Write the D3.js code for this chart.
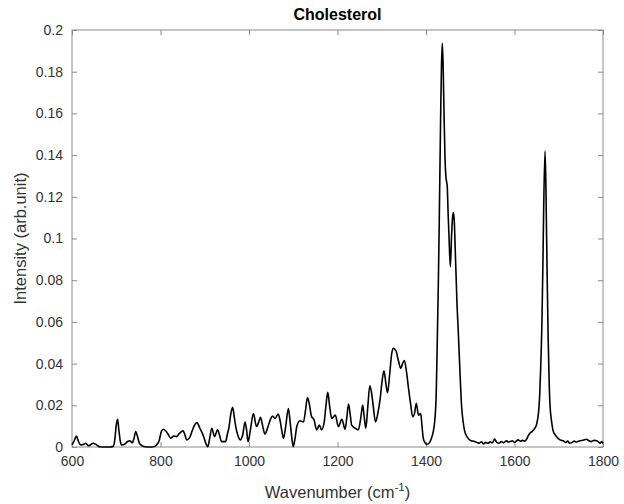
<!DOCTYPE html>
<html>
    <head>
        <meta charset="UTF-8">
        <title>Cholesterol spectrum</title>
        <style>
            body { margin: 0; background: #fff; }
            text { font-family: "Liberation Sans", Arial, Helvetica, sans-serif; }
        </style>
    </head>
    <body>
        <script src="https://d3js.org/d3.v7.min.js"></script>
        <svg></svg>
        <script>
            // spectrum (cm^-1, arb. unit)
            let wavenumber = [
                600, 605, 610, 614, 620, 626, 631, 637, 643, 648, 653, 658, 663, 675, 685, 693, 697, 700, 703, 706,
                709, 712, 718, 725, 731, 736, 740, 744, 748, 752, 756, 762, 770, 780, 787, 791, 797, 802, 806, 813,
                818, 823, 830, 836, 843, 851, 855, 859, 866, 872, 877, 882, 889, 897, 902, 907, 911, 916, 922, 929,
                933, 938, 947, 951, 955, 959, 963, 967, 970, 975, 980, 986, 991, 994, 998, 1003, 1010, 1017, 1022, 1026,
                1031, 1036, 1043, 1048, 1053, 1059, 1066, 1070, 1074, 1078, 1083, 1089, 1093, 1097, 1100, 1104, 1108, 1115, 1123, 1128,
                1132, 1136, 1141, 1147, 1153, 1159, 1164, 1170, 1174, 1178, 1182, 1187, 1195, 1202, 1210, 1217, 1221, 1225, 1229, 1232,
                1240, 1247, 1252, 1257, 1260, 1264, 1268, 1273, 1277, 1280, 1286, 1291, 1296, 1301, 1305, 1309, 1313, 1318, 1322, 1326,
                1332, 1337, 1343, 1347, 1351, 1356, 1360, 1365, 1370, 1374, 1378, 1383, 1388, 1391, 1394, 1398, 1401, 1405, 1409, 1412,
                1416, 1420, 1423, 1425, 1428, 1430, 1433, 1435, 1437, 1439, 1441, 1443, 1445, 1448, 1450, 1452, 1455, 1458, 1460, 1462,
                1464, 1466, 1468, 1470, 1473, 1475, 1478, 1480, 1484, 1487, 1491, 1496, 1502, 1508, 1515, 1520, 1525, 1530, 1535, 1540,
                1545, 1550, 1555, 1560, 1565, 1570, 1575, 1582, 1586, 1590, 1595, 1600, 1605, 1608, 1614, 1618, 1623, 1628, 1632, 1635,
                1640, 1646, 1650, 1654, 1657, 1659, 1662, 1664, 1666, 1669, 1671, 1672, 1674, 1676, 1678, 1680, 1684, 1687, 1692, 1699,
                1705, 1710, 1716, 1720, 1725, 1730, 1735, 1740, 1748, 1755, 1763, 1768, 1774, 1780, 1786, 1790, 1793, 1797, 1800
            ];
            let intensity = [
                0.001, 0.003, 0.0053, 0.003, 0.001, 0.0012, 0.0018, 0.0006, 0.0012, 0.0018, 0.0014, 0.0006, 0.0001, 0, 0, 0.0003, 0.004, 0.0105, 0.0133, 0.008,
                0.003, 0.001, 0.0012, 0.0025, 0.003, 0.002, 0.004, 0.0074, 0.005, 0.002, 0.001, 0.0002, 0, 0, 0.0003, 0.001, 0.003, 0.0075, 0.0085, 0.0074,
                0.0058, 0.0042, 0.0053, 0.005, 0.0066, 0.0078, 0.006, 0.0034, 0.0045, 0.008, 0.0105, 0.0117, 0.009, 0.0053, 0.002, 0.0002, 0.004, 0.009, 0.005, 0.0082,
                0.006, 0.0026, 0.0026, 0.006, 0.0098, 0.016, 0.019, 0.014, 0.0098, 0.0055, 0.0034, 0.006, 0.012, 0.009, 0.0026, 0.008, 0.016, 0.0098, 0.012, 0.0142,
                0.01, 0.0062, 0.0098, 0.013, 0.0149, 0.0137, 0.0158, 0.013, 0.008, 0.0042, 0.01, 0.0185, 0.012, 0.004, 0.0002, 0.004, 0.0098, 0.0126, 0.012, 0.018,
                0.0237, 0.021, 0.0149, 0.013, 0.0082, 0.0105, 0.0082, 0.012, 0.02, 0.0262, 0.02, 0.0137, 0.0153, 0.0098, 0.0133, 0.0085, 0.014, 0.0206, 0.015, 0.0105,
                0.009, 0.0082, 0.013, 0.0201, 0.015, 0.009, 0.018, 0.0294, 0.026, 0.021, 0.012, 0.016, 0.0225, 0.032, 0.0366, 0.031, 0.026, 0.035, 0.044, 0.0473,
                0.0462, 0.042, 0.0377, 0.04, 0.0415, 0.036, 0.029, 0.021, 0.0145, 0.016, 0.021, 0.0153, 0.016, 0.01, 0.004, 0.002, 0.0013, 0.0015, 0.0025, 0.004,
                0.007, 0.013, 0.025, 0.045, 0.08, 0.109, 0.157, 0.183, 0.1936, 0.18, 0.157, 0.138, 0.1297, 0.125, 0.112, 0.101, 0.0865, 0.1025, 0.11, 0.1124,
                0.108, 0.095, 0.082, 0.069, 0.055, 0.045, 0.03, 0.021, 0.012, 0.008, 0.0055, 0.004, 0.003, 0.0028, 0.0022, 0.0018, 0.0025, 0.0015, 0.0022, 0.0017,
                0.0025, 0.002, 0.0038, 0.0022, 0.0018, 0.0026, 0.002, 0.003, 0.0024, 0.0026, 0.003, 0.0022, 0.003, 0.0034, 0.0028, 0.0032, 0.0028, 0.004, 0.0058, 0.0066,
                0.0075, 0.009, 0.011, 0.016, 0.025, 0.037, 0.06, 0.085, 0.115, 0.142, 0.125, 0.109, 0.08, 0.053, 0.034, 0.021, 0.012, 0.008, 0.0058, 0.004,
                0.0032, 0.003, 0.0022, 0.0028, 0.0018, 0.0022, 0.0028, 0.0024, 0.003, 0.0032, 0.0037, 0.003, 0.0026, 0.0032, 0.003, 0.0024, 0.0018, 0.0026, 0.0017
            ];
            let xTicks = [600, 800, 1000, 1200, 1400, 1600, 1800];
            let yTicks = [0, 0.02, 0.04, 0.06, 0.08, 0.1, 0.12, 0.14, 0.16, 0.18, 0.2];

            let data = wavenumber.map((w, i) => ({x: w, y: intensity[i]}));

            let margin = {top: 30, right: 21, bottom: 57, left: 72},
                width = 624 - margin.left - margin.right,
                height = 504 - margin.top - margin.bottom;

            let svg = d3.select("svg")
                .attr("width", 624)
                .attr("height", 504);
            let chart = svg.append("g")
                .attr("transform", "translate(" + margin.left + "," + margin.top + ")");

            let xScale = d3.scaleLinear()
                .domain([600, 1800])
                .range([0, width]);
            let yScale = d3.scaleLinear()
                .domain([0, 0.2])
                .range([height, 0]);

            let axisColor = "#8a8a8a";
            let labelColor = "#333";

            function styleAxis(g) {
                g.select(".domain").remove();
                g.selectAll(".tick line").attr("stroke", axisColor);
                g.selectAll(".tick text")
                    .attr("fill", labelColor)
                    .style("font-size", "14px");
            }

            // bottom + left with labels, ticks pointing inward
            chart.append("g")
                .attr("transform", "translate(0," + height + ")")
                .call(d3.axisBottom(xScale).tickValues(xTicks).tickSize(-5).tickPadding(9).tickFormat(d3.format("d")))
                .call(styleAxis);
            chart.append("g")
                .call(d3.axisLeft(yScale).tickValues(yTicks).tickSize(-5).tickPadding(9).tickFormat(d => d === 0 ? "0" : String(+d.toFixed(2))))
                .call(styleAxis);
            // top + right ticks only
            chart.append("g")
                .call(d3.axisTop(xScale).tickValues(xTicks).tickSize(-5).tickFormat(""))
                .call(styleAxis);
            chart.append("g")
                .attr("transform", "translate(" + width + ",0)")
                .call(d3.axisRight(yScale).tickValues(yTicks).tickSize(-5).tickFormat(""))
                .call(styleAxis);

            chart.append("rect")
                .attr("width", width)
                .attr("height", height)
                .attr("fill", "none")
                .attr("stroke", axisColor)
                .attr("stroke-width", 1);

            let line = d3.line()
                .x(d => xScale(d.x))
                .y(d => yScale(d.y))
                .curve(d3.curveMonotoneX);

            chart.append("path")
                .datum(data)
                .attr("fill", "none")
                .attr("stroke", "#000")
                .attr("stroke-width", 1.6)
                .attr("stroke-linejoin", "round")
                .attr("d", line);

            chart.append("text")
                .attr("x", width / 2)
                .attr("y", -10)
                .attr("text-anchor", "middle")
                .attr("fill", "#000")
                .style("font-size", "16px")
                .style("font-weight", "bold")
                .text("Cholesterol");

            let xLabel = chart.append("text")
                .attr("x", width / 2)
                .attr("y", height + 51)
                .attr("text-anchor", "middle")
                .attr("fill", labelColor)
                .style("font-size", "16.5px");
            xLabel.append("tspan").text("Wavenumber (cm");
            xLabel.append("tspan").attr("dy", -7).style("font-size", "11.5px").text("-1");
            xLabel.append("tspan").attr("dy", 7).text(")");

            chart.append("text")
                .attr("transform", "translate(-46," + (height / 2) + ") rotate(-90)")
                .attr("text-anchor", "middle")
                .attr("fill", labelColor)
                .style("font-size", "16.5px")
                .text("Intensity (arb.unit)");
        </script>
    </body>
</html>
